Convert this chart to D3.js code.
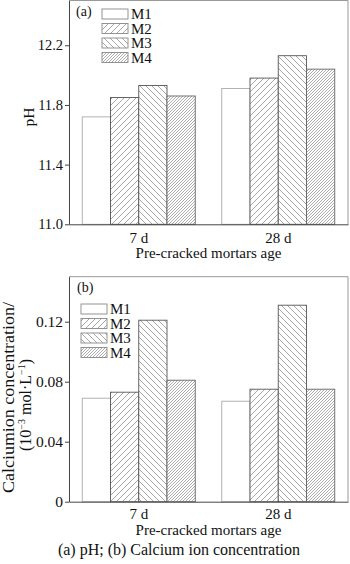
<!DOCTYPE html>
<html><head><meta charset="utf-8">
<script src="https://cdn.jsdelivr.net/npm/d3@7"></script>
<style>
html,body{margin:0;padding:0;background:#fff;}
svg{display:block;}
text{font-family:"Liberation Serif","Times New Roman",serif;fill:#111;}
</style></head>
<body>
<svg id="c" width="350" height="564"></svg>
<script>
const categories = ["7 d", "28 d"];
const seriesNames = ["M1", "M2", "M3", "M4"];
const phValues = [
  [11.72, 11.91],   // M1
  [11.85, 11.98],   // M2
  [11.93, 12.13],   // M3
  [11.86, 12.04]    // M4
];
const caValues = [
  [0.069, 0.067],   // M1
  [0.073, 0.075],   // M2
  [0.121, 0.131],   // M3
  [0.081, 0.075]    // M4
];
const phTicks = [11.0, 11.4, 11.8, 12.2];
const phTickLabels = ["11.0", "11.4", "11.8", "12.2"];
const caTicks = [0, 0.04, 0.08, 0.12];
const caTickLabels = ["0", "0.04", "0.08", "0.12"];

const SERIF = '"Liberation Serif","Times New Roman",serif';
const svg = d3.select("#c");
const defs = svg.append("defs");
function hatch(id, s, dir, color, w) {
  const p = defs.append("pattern").attr("id", id).attr("patternUnits", "userSpaceOnUse")
    .attr("width", s).attr("height", s);
  p.append("rect").attr("width", s).attr("height", s).attr("fill", "#fff");
  const d = dir === "/"
    ? `M0,${s} L${s},0 M${-s/2},${s/2} L${s/2},${-s/2} M${s/2},${s*1.5} L${s*1.5},${s/2}`
    : `M0,0 L${s},${s} M${-s/2},${s/2} L${s/2},${s*1.5} M${s/2},${-s/2} L${s*1.5},${s/2}`;
  p.append("path").attr("d", d).attr("stroke", color).attr("stroke-width", w).attr("fill", "none");
}
hatch("p2", 6, "/", "#8a8a8a", 0.75);
hatch("p3", 6, "\\", "#8a8a8a", 0.75);
hatch("p4", 3, "/", "#8a8a8a", 0.7);
const fills = ["#fff", "url(#p2)", "url(#p3)", "url(#p4)"];
const strokes = ["#aaa", "#555", "#555", "#666"];

const x0 = d3.scaleBand().domain(categories).range([69, 348]).paddingInner(0.19).paddingOuter(0.095);
const x1 = d3.scaleBand().domain(seriesNames).range([0, x0.bandwidth()]);

function panel(cfg) {
  const y = d3.scaleLinear().domain(cfg.domain).range([cfg.bottom, cfg.top]);
  const g = svg.append("g");
  g.append("line").attr("x1", 69).attr("x2", 348).attr("y1", cfg.top).attr("y2", cfg.top).attr("stroke", "#999").attr("stroke-width", 1);
  g.append("line").attr("x1", 348).attr("x2", 348).attr("y1", cfg.top).attr("y2", cfg.bottom).attr("stroke", "#999").attr("stroke-width", 1);
  seriesNames.forEach((s, i) => {
    g.selectAll(null).data(categories).enter().append("rect")
      .attr("x", c => x0(c) + x1(s))
      .attr("width", x1.bandwidth())
      .attr("y", (c, j) => y(cfg.values[i][j]))
      .attr("height", (c, j) => cfg.bottom - y(cfg.values[i][j]))
      .attr("fill", fills[i]).attr("stroke", strokes[i]).attr("stroke-width", 0.9);
  });
  const ya = g.append("g").attr("transform", "translate(69,0)")
    .call(d3.axisLeft(y).tickValues(cfg.ticks).tickFormat((d, k) => cfg.tickLabels[k]).tickSize(4).tickPadding(2).tickSizeOuter(0));
  ya.attr("font-family", SERIF).attr("font-size", cfg.tickFont);
  ya.select(".domain").attr("stroke", "#444");
  ya.selectAll(".tick line").attr("stroke", "#444");
  ya.selectAll(".tick text").attr("fill", "#111");
  const xa = g.append("g").attr("transform", `translate(0,${cfg.bottom})`)
    .call(d3.axisBottom(x0).tickSize(0).tickPadding(cfg.xPad).tickSizeOuter(0));
  xa.attr("font-family", SERIF).attr("font-size", 15);
  xa.select(".domain").attr("stroke", "#444");
  xa.selectAll(".tick text").attr("fill", "#111");
  g.append("text").attr("x", 208.5).attr("y", cfg.xLabelY).attr("text-anchor", "middle").style("font-size", "15px").text("Pre-cracked mortars age");
  g.append("text").attr("x", cfg.tagX).attr("y", cfg.tagY).style("font-size", "14px").text(cfg.tag);
  seriesNames.forEach((s, i) => {
    const cy = cfg.legY + i * 14.5;
    g.append("rect").attr("x", cfg.legX).attr("y", cy - 5).attr("width", 26).attr("height", 10)
      .attr("fill", fills[i]).attr("stroke", "#888").attr("stroke-width", 0.9);
    g.append("text").attr("x", cfg.legX + 29).attr("y", cy + 5).style("font-size", "15px").text(s);
  });
  return g;
}

panel({domain: [11.0, 12.5], top: 0.5, bottom: 224.3, values: phValues, ticks: phTicks, tickLabels: phTickLabels,
  tickFont: 14.5, xPad: 8, xLabelY: 258, tag: "(a)", tagX: 76, tagY: 16, legX: 102, legY: 14});
panel({domain: [0, 0.15], top: 276.7, bottom: 501.7, values: caValues, ticks: caTicks, tickLabels: caTickLabels,
  tickFont: 15.5, xPad: 7, xLabelY: 535, tag: "(b)", tagX: 77, tagY: 292, legX: 81, legY: 309});

svg.append("text").attr("transform", "translate(34,117) rotate(-90)").attr("text-anchor", "middle")
  .style("font-size", "15.5px").text("pH");
svg.append("text").attr("transform", "translate(13.5,397.5) rotate(-90)").attr("text-anchor", "middle")
  .style("font-size", "16px").attr("textLength", 191).attr("lengthAdjust", "spacingAndGlyphs").text("Calciumion concentration/");
const l2 = svg.append("text").attr("transform", "translate(31,405) rotate(-90)").attr("text-anchor", "middle")
  .style("font-size", "16px");
l2.append("tspan").text("(10");
l2.append("tspan").attr("dy", -6).style("font-size", "10px").text("−3");
l2.append("tspan").attr("dy", 6).text(" mol·L");
l2.append("tspan").attr("dy", -6).style("font-size", "10px").text("−1");
l2.append("tspan").attr("dy", 6).text(")");

svg.append("text").attr("x", 179).attr("y", 555).attr("text-anchor", "middle").style("font-size", "16px")
  .text("(a) pH; (b) Calcium ion concentration");
</script>
</body></html>
